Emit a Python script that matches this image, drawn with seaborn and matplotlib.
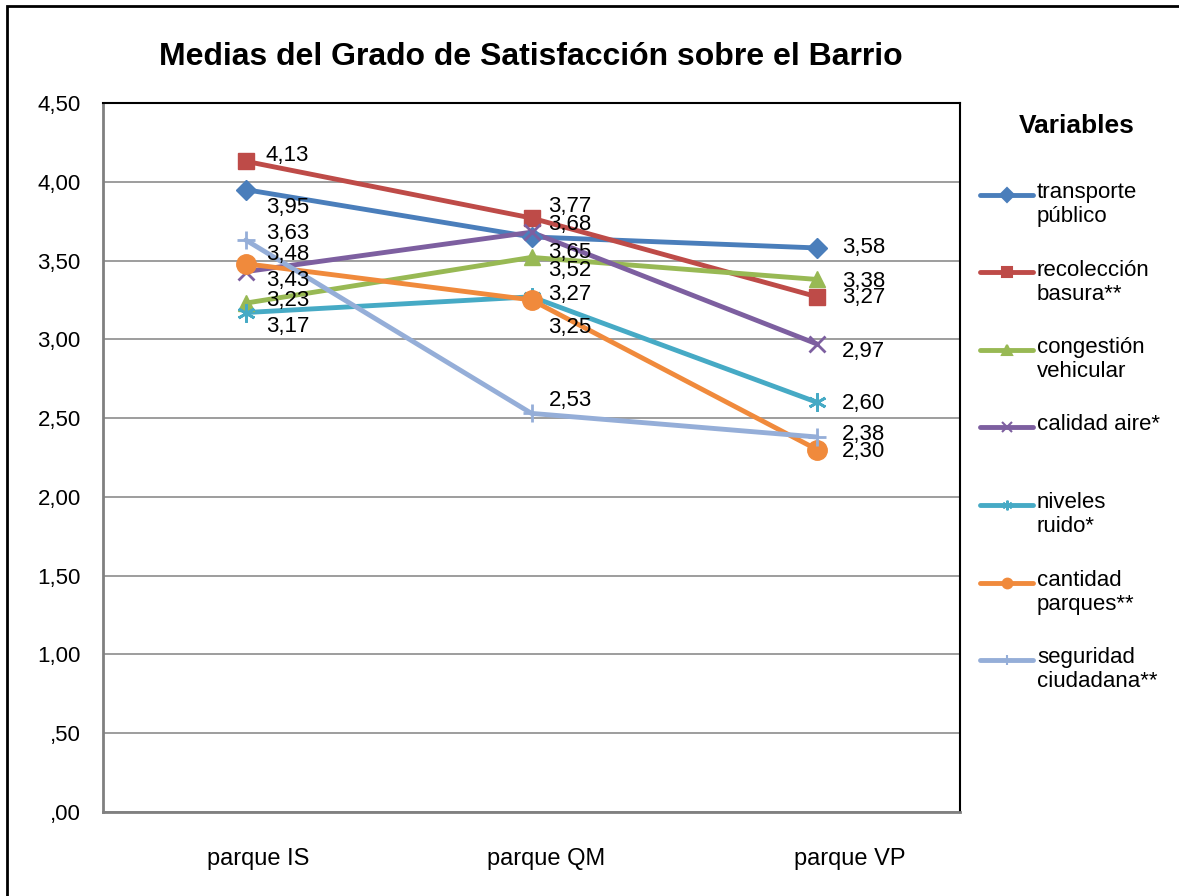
import numpy as np
import pandas as pd
import matplotlib
matplotlib.use("Agg")
import matplotlib.pyplot as plt
import matplotlib.transforms as mtransforms
from matplotlib.lines import Line2D
from matplotlib.patches import Rectangle
import seaborn as sns

# ---- data ----
parks = ["parque IS", "parque QM", "parque VP"]
series_names = ["transporte\npúblico", "recolección\nbasura**", "congestión\nvehicular",
                "calidad aire*", "niveles\nruido*", "cantidad\nparques**", "seguridad\nciudadana**"]
transporte = [3.95, 3.65, 3.58]
recoleccion = [4.13, 3.77, 3.27]
congestion = [3.23, 3.52, 3.38]
calidad = [3.43, 3.68, 2.97]
ruido = [3.17, 3.27, 2.60]
parques = [3.48, 3.25, 2.30]
seguridad = [3.63, 2.53, 2.38]
yticks = [0, 0.5, 1, 1.5, 2, 2.5, 3, 3.5, 4, 4.5]
ytick_labels = [",00", ",50", "1,00", "1,50", "2,00", "2,50", "3,00", "3,50", "4,00", "4,50"]
title = "Medias del Grado de Satisfacción sobre el Barrio"
legend_title = "Variables"

values = [transporte, recoleccion, congestion, calidad, ruido, parques, seguridad]
colors = ["#4A7EBB", "#BE4B48", "#98B954", "#7D5FA0", "#46AAC5", "#F08A3C", "#95AED8"]
markers = ["D", "s", "^", "x", (6, 2, 0), "o", "+"]
msizes = [10, 12, 12, 11, 13, 14, 13]

# label offsets in pixels (dx, dy up) per series per park
label_off = [
    [(20, -18), (17, -16), (25, 0)],
    [(20, 6), (17, 12), (25, -1)],
    [(20, 3), (17, -13), (25, -2)],
    [(20, -9), (17, 8), (25, -7)],
    [(20, -14), (17, 2), (25, -1)],
    [(20, 9), (17, -28), (25, -2)],
    [(20, 7), (17, 13), (25, 3)],
]
xlabel_shift = [12, 15, 33]

rows = []
for name, vals in zip(series_names, values):
    for i, v in enumerate(vals):
        rows.append({"serie": name, "x": i, "valor": v})
df = pd.DataFrame(rows)

sns.set_theme(style="white")
plt.rcParams["font.family"] = ["Liberation Sans", "DejaVu Sans"]
plt.rcParams["text.color"] = "black"
plt.rcParams["xtick.color"] = "black"
plt.rcParams["ytick.color"] = "black"
plt.rcParams["axes.labelcolor"] = "black"

fig = plt.figure(figsize=(11.79, 8.96), dpi=100)
ax = fig.add_axes([103 / 1179, 84 / 896, 857 / 1179, 709 / 896])

sns.lineplot(data=df, x="x", y="valor", hue="serie", hue_order=series_names,
             palette=colors, linewidth=3.5, legend=False, ax=ax, zorder=3)
# markers
for name, col, mk, ms in zip(series_names, colors, markers, msizes):
    sub = df[df["serie"] == name]
    ax.plot(sub["x"], sub["valor"], linestyle="none", marker=mk, markersize=ms,
            color=col, markeredgecolor=col, markeredgewidth=2 if mk in ["x", "+", (6, 2, 0)] else 1,
            zorder=4)

# data labels
for vals, offs in zip(values, label_off):
    for i, (v, (dx, dy)) in enumerate(zip(vals, offs)):
        ax.annotate(f"{v:.2f}".replace(".", ","), (i, v), xytext=(dx * 0.72, dy * 0.72),
                    textcoords="offset points", ha="left", va="center", fontsize=16,
                    color="black", zorder=5)

ax.set_xlim(-0.5, 2.5)
ax.set_ylim(0, 4.5)
ax.set_yticks(yticks)
ax.set_yticklabels(ytick_labels, fontsize=16, color="black")
ax.set_xticks(range(len(parks)))
ax.set_xticklabels(parks, fontsize=17, color="black")
ax.tick_params(axis="x", pad=26, length=0)
ax.tick_params(axis="y", pad=16, length=0)
for lbl, sh in zip(ax.get_xticklabels(), xlabel_shift):
    lbl.set_transform(lbl.get_transform() + mtransforms.Affine2D().translate(sh, 0))
ax.set_xlabel("")
ax.set_ylabel("")
ax.grid(axis="y", color="#8C8C8C", linewidth=1.2)
ax.set_axisbelow(True)
for s in ["left", "bottom"]:
    ax.spines[s].set_color("#808080")
    ax.spines[s].set_linewidth(2)
for s in ["top", "right"]:
    ax.spines[s].set_color("black")
    ax.spines[s].set_linewidth(1.5)

fig.text(531 / 1179, 1 - 57 / 896, title, ha="center", va="center",
         fontsize=23, fontweight="bold", color="black")

# legend
fig.text(1077 / 1179, 1 - 126 / 896, legend_title, ha="center", va="center",
         fontsize=19, fontweight="bold", color="black")
for k, (name, col, mk) in enumerate(zip(series_names, colors, markers)):
    y = 195 + k * 77.5
    yf = 1 - y / 896
    fig.add_artist(Line2D([980 / 1179, 1033 / 1179], [yf, yf], color=col, linewidth=3.5,
                          transform=fig.transFigure))
    fig.add_artist(Line2D([1006.5 / 1179], [yf], color=col, marker=mk, markersize=7,
                          markeredgecolor=col, markeredgewidth=1.5, linestyle="none",
                          transform=fig.transFigure))
    fig.text(1037 / 1179, yf + 13 / 896, name, ha="left", va="top", fontsize=16,
             linespacing=1.2, color="black")

fig.add_artist(Rectangle((7 / 1179, -0.1), 1.2, 1 - 6 / 896 + 0.1, transform=fig.transFigure,
                         fill=False, edgecolor="black", linewidth=2))

fig.savefig("out.png", dpi=100)
